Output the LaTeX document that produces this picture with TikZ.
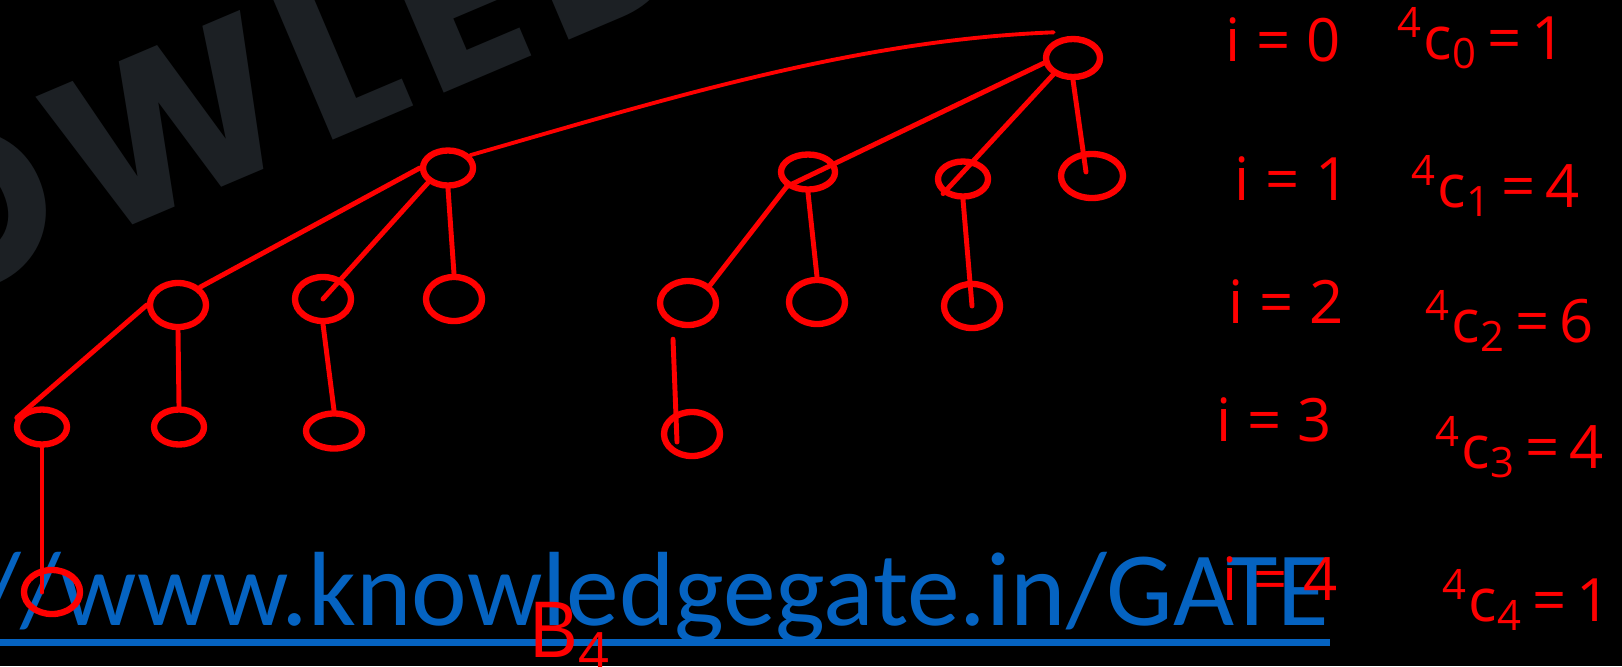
\documentclass[tikz,border=0pt]{standalone}
\usepackage{fontspec}
\usepackage{tikz}
\usetikzlibrary{shapes.geometric, calc}
\newfontfamily\urlfont{Carlito}
\newfontfamily\wmfont[LetterSpace=7]{Poppins}
\newfontfamily\handfont{Open Sans}
\definecolor{penRed}{RGB}{255,0,0}
\definecolor{wmGray}{RGB}{28,32,36}
\definecolor{linkBlue}{RGB}{5,99,193}

\begin{document}
\begin{tikzpicture}[
  x=0.01cm, y=-0.01cm,
  vtx/.style={ellipse, draw=penRed, line width=1.8pt, minimum width=5.0mm, minimum height=3.5mm, inner sep=0pt},
  bigvtx/.style={vtx, minimum width=5.6mm, minimum height=4.4mm},
  edge/.style={penRed, line width=1.4pt, line cap=round},
  lbl/.style={text=penRed, font=\handfont\fontsize{17}{20}\selectfont, inner sep=0pt},
  wmark/.style={text=wmGray, font=\wmfont\bfseries\fontsize{63}{70}\selectfont, inner sep=0pt},
  link/.style={text=linkBlue, font=\urlfont\fontsize{30}{36}\selectfont, inner sep=0pt},
  uline/.style={linkBlue, line width=2pt}
]

% Background, watermark and link
\path [use as bounding box, fill=black] (0,0) rectangle (1622,666);
\clip (0,0) rectangle (1622,666);
\node (wm) [wmark, rotate=23, anchor=base] at (296,156) {KNOWLEDGE};
\node (url) [link, anchor=base east] at (1330,625) {https://www.knowledgegate.in/GATE};
\draw [uline] ($(url.base west)+(0,17)$) -- ($(url.base east)+(0,17)$);

% Nodes
\node (r) [vtx, minimum width=5.4mm, minimum height=3.8mm] at (1073,58) {};
\node (r3) [vtx] at (448,168) {};
\node (r2) [vtx, minimum width=5.4mm] at (808,172) {};
\node (r1) [vtx] at (963,179) {};
\node (r0) [bigvtx, minimum width=6.2mm] at (1092,176) {};
\node (r32) [bigvtx] at (178,305) {};
\node (r31) [bigvtx] at (323,299) {};
\node (r30) [bigvtx] at (454,299) {};
\node (r21) [bigvtx] at (688,303) {};
\node (r20) [bigvtx] at (817,302) {};
\node (r10) [bigvtx] at (972,306) {};
\node (r321) [vtx] at (42,427) {};
\node (r320) [vtx] at (179,427) {};
\node (r310) [vtx, minimum width=5.6mm] at (334,431) {};
\node (r210) [bigvtx] at (692,434) {};
\node (r3210) [bigvtx] at (52,592) {};

% Edges
\draw [edge, line width=1.1pt] ($(r.north west)+(2,-10)$) .. controls (854,40) and (663,100) .. (r3.30);
\draw [edge] (r.190) -- (r2.south west);
\draw [edge] (r.220) -- (r1.south west);
\draw [edge] (r.south) -- ($(r0.center)+(-6,-4)$);
\draw [edge] (r3.west) -- (r32.north east);
\draw [edge] (r3.south west) -- (r31.center);
\draw [edge] (r3.south) -- (r30.north);
\draw [edge] (r32.west) -- (r321.160);
\draw [edge] (r32.south) -- (r320.north);
\draw [edge] (r31.south) -- (r310.north);
\draw [edge] (r321.south) -- (r321.south |- r3210.center);
\draw [edge] (r2.south west) -- (r21.north east);
\draw [edge] (r2.south) -- (r20.north);
\draw [edge] (r1.south) -- (r10.center);
\draw [edge] ($(r21.south)+(-15,11)$) -- ($(r210.center)+(-15,8)$);

% Labels
\node (i0) [lbl] at (1283,40) {i = 0};
\node (i1) [lbl] at (1292,179) {i = 1};
\node (i2) [lbl] at (1286,302) {i = 2};
\node (i3) [lbl] at (1274,420) {i = 3};
\node (i4) [lbl] at (1280,579) {i = 4};
\node (c0) [lbl] at (1482,38) {\textsuperscript{4}c\textsubscript{0}\,=\,1};
\node (c1) [lbl] at (1496,186) {\textsuperscript{4}c\textsubscript{1}\,=\,4};
\node (c2) [lbl] at (1510,321) {\textsuperscript{4}c\textsubscript{2}\,=\,6};
\node (c3) [lbl] at (1520,447) {\textsuperscript{4}c\textsubscript{3}\,=\,4};
\node (c4) [lbl] at (1527,600) {\textsuperscript{4}c\textsubscript{4}\,=\,1};
\node (bname) [lbl, font=\handfont\fontsize{22}{26}\selectfont] at (570,637) {B\textsubscript{4}};

\end{tikzpicture}
\end{document}
